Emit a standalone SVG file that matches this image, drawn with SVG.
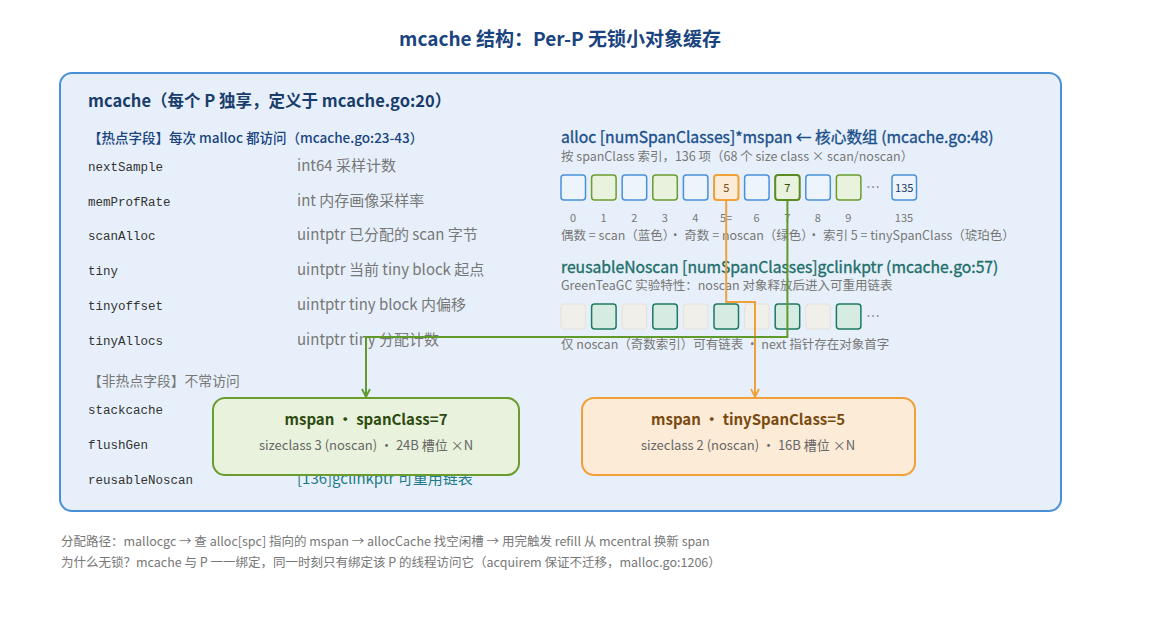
<svg xmlns="http://www.w3.org/2000/svg" width="1151" height="621" viewBox="0 0 1151 621">
<defs>
<style>
text{font-family:"Noto Sans CJK SC","Noto Sans",sans-serif}
.mono{font-family:"Liberation Mono","DejaVu Sans Mono",monospace;font-size:12.5px;fill:#333}
.typ{font-size:15px;fill:#777}
.small{font-size:12.5px;fill:#777}
.idx{font-size:11px;fill:#777;text-anchor:middle}
.dots{font-size:14px;fill:#777;text-anchor:middle}
.be{fill:#edf4fc;stroke:#4a90d9;stroke-width:1.5}
.go{fill:#e9f2dd;stroke:#6a9c2e;stroke-width:1.5}
.ne{fill:#f1efe9;stroke:#e4e1da;stroke-width:1}
.no{fill:#d6ece3;stroke:#1e7a5e;stroke-width:1.5}
.sec{font-size:15.7px;font-weight:normal;stroke-width:0.35px}
</style>
<marker id="ag" viewBox="0 0 10 10" refX="9" refY="5" markerWidth="10" markerHeight="10" markerUnits="userSpaceOnUse" orient="auto"><path d="M1,1 L9,5 L1,9" fill="none" stroke="#5f9a2a" stroke-width="1.8"/></marker>
<marker id="ao" viewBox="0 0 10 10" refX="9" refY="5" markerWidth="10" markerHeight="10" markerUnits="userSpaceOnUse" orient="auto"><path d="M1,1 L9,5 L1,9" fill="none" stroke="#f0a038" stroke-width="1.8"/></marker>
</defs>
<rect width="1151" height="621" fill="#ffffff"/>
<text x="560" y="46" text-anchor="middle" font-size="19" font-weight="bold" fill="#1a4480">mcache 结构：Per-P 无锁小对象缓存</text>

<g id="mcache">
<rect x="60" y="73" width="1001" height="438" rx="12" fill="#e7f0fa" stroke="#4a90d9" stroke-width="2"/>
<text x="88" y="107" font-size="16.5" font-weight="bold" fill="#1a3d6b">mcache（每个 P 独享，定义于 mcache.go:20）</text>
<text x="88" y="143" font-size="13.5" font-weight="500" fill="#1a4480">【热点字段】每次 malloc 都访问（mcache.go:23-43）</text>
<text class="mono" x="88" y="171">nextSample</text><text class="typ" x="297" y="171">int64 采样计数</text>
<text class="mono" x="88" y="206">memProfRate</text><text class="typ" x="297" y="206">int 内存画像采样率</text>
<text class="mono" x="88" y="240">scanAlloc</text><text class="typ" x="297" y="240">uintptr 已分配的 scan 字节</text>
<text class="mono" x="88" y="275">tiny</text><text class="typ" x="297" y="275">uintptr 当前 tiny block 起点</text>
<text class="mono" x="88" y="310">tinyoffset</text><text class="typ" x="297" y="310">uintptr tiny block 内偏移</text>
<text class="mono" x="88" y="345">tinyAllocs</text><text class="typ" x="297" y="345">uintptr tiny 分配计数</text>
<text x="88" y="386" font-size="13.8" fill="#777">【非热点字段】不常访问</text>
<text class="mono" x="88" y="414">stackcache</text>
<text class="mono" x="88" y="449">flushGen</text>
<text class="mono" x="88" y="484">reusableNoscan</text><text x="297" y="484" font-size="15" fill="#1e7a8a">[136]gclinkptr 可重用链表</text>

<text class="sec" x="561" y="143" fill="#1a4f8a" stroke="#1a4f8a">alloc [numSpanClasses]*mspan ← 核心数组 (mcache.go:48)</text>
<text class="small" x="561" y="161">按 spanClass 索引，136 项（68 个 size class × scan/noscan）</text>
<rect class="be" x="561" y="175" width="24.5" height="25" rx="3"/>
<rect class="go" x="591.6" y="175" width="24.5" height="25" rx="3"/>
<rect class="be" x="622.2" y="175" width="24.5" height="25" rx="3"/>
<rect class="go" x="652.8" y="175" width="24.5" height="25" rx="3"/>
<rect class="be" x="683.4" y="175" width="24.5" height="25" rx="3"/>
<rect x="714" y="175" width="24.5" height="25" rx="3" fill="#fbebd7" stroke="#f0a038" stroke-width="2"/>
<text x="726.2" y="192" text-anchor="middle" font-size="11" fill="#7a4a10">5</text>
<rect class="be" x="744.6" y="175" width="24.5" height="25" rx="3"/>
<rect x="775.2" y="175" width="24.5" height="25" rx="3" fill="#e9f2dd" stroke="#5a8a20" stroke-width="2"/>
<text x="787.4" y="192" text-anchor="middle" font-size="11" fill="#2d4a0f">7</text>
<rect class="be" x="805.8" y="175" width="24.5" height="25" rx="3"/>
<rect class="go" x="836.4" y="175" width="24.5" height="25" rx="3"/>
<text class="dots" x="873" y="192">…</text>
<rect class="be" x="892" y="175" width="24.5" height="25" rx="3"/>
<text x="904.2" y="192" text-anchor="middle" font-size="11" fill="#1a3d6b">135</text>
<text class="idx" x="573" y="222">0</text>
<text class="idx" x="603.6" y="222">1</text>
<text class="idx" x="634.2" y="222">2</text>
<text class="idx" x="664.8" y="222">3</text>
<text class="idx" x="695.4" y="222">4</text>
<text class="idx" x="726" y="222">5=</text>
<text class="idx" x="756.6" y="222">6</text>
<text class="idx" x="787.2" y="222">7</text>
<text class="idx" x="817.8" y="222">8</text>
<text class="idx" x="848.4" y="222">9</text>
<text class="idx" x="904" y="222">135</text>
<text class="small" x="561" y="240">偶数 = scan（蓝色）·  奇数 = noscan（绿色）·  索引 5 = tinySpanClass（琥珀色）</text>

<text class="sec" x="561" y="273" fill="#1e6e6a" stroke="#1e6e6a">reusableNoscan [numSpanClasses]gclinkptr (mcache.go:57)</text>
<text class="small" x="561" y="290">GreenTeaGC 实验特性：noscan 对象释放后进入可重用链表</text>
<rect class="ne" x="561" y="304" width="24.5" height="25" rx="3"/>
<rect class="no" x="591.6" y="304" width="24.5" height="25" rx="3"/>
<rect class="ne" x="622.2" y="304" width="24.5" height="25" rx="3"/>
<rect class="no" x="652.8" y="304" width="24.5" height="25" rx="3"/>
<rect class="ne" x="683.4" y="304" width="24.5" height="25" rx="3"/>
<rect class="no" x="714" y="304" width="24.5" height="25" rx="3"/>
<rect class="ne" x="744.6" y="304" width="24.5" height="25" rx="3"/>
<rect class="no" x="775.2" y="304" width="24.5" height="25" rx="3"/>
<rect class="ne" x="805.8" y="304" width="24.5" height="25" rx="3"/>
<rect class="no" x="836.4" y="304" width="24.5" height="25" rx="3"/>
<text class="dots" x="873" y="321">…</text>
<text class="small" x="561" y="349">仅 noscan（奇数索引）可有链表 ·  next 指针存在对象首字</text>
</g>

<g id="connectors" fill="none" stroke-width="2">
<path d="M726.2,201 V302 H755 V397" stroke="#f0a038" marker-end="url(#ao)"/>
<path d="M787.4,201 V337 H366 V397" stroke="#5f9a2a" marker-end="url(#ag)"/>
</g>

<g id="mspan7">
<rect x="213" y="398" width="306" height="77" rx="12" fill="#e9f2dd" stroke="#6a9c2e" stroke-width="2"/>
<text x="366" y="425" text-anchor="middle" font-size="15" font-weight="600" fill="#2d4a0f">mspan ・ spanClass=7</text>
<text x="366" y="450" text-anchor="middle" font-size="13" fill="#666">sizeclass 3 (noscan) ・ 24B 槽位 ×N</text>
</g>

<g id="mspan5">
<rect x="582" y="398" width="333" height="77" rx="12" fill="#fbebd7" stroke="#f0a038" stroke-width="2"/>
<text x="748" y="425" text-anchor="middle" font-size="15" font-weight="600" fill="#7a4a10">mspan ・ tinySpanClass=5</text>
<text x="748" y="450" text-anchor="middle" font-size="13" fill="#666">sizeclass 2 (noscan) ・ 16B 槽位 ×N</text>
</g>

<g id="footer">
<text class="small" x="61" y="546">分配路径：mallocgc → 查 alloc[spc] 指向的 mspan → allocCache 找空闲槽 → 用完触发 refill 从 mcentral 换新 span</text>
<text class="small" x="61" y="567">为什么无锁？mcache 与 P 一一绑定，同一时刻只有绑定该 P 的线程访问它（acquirem 保证不迁移，malloc.go:1206）</text>
</g>
</svg>
